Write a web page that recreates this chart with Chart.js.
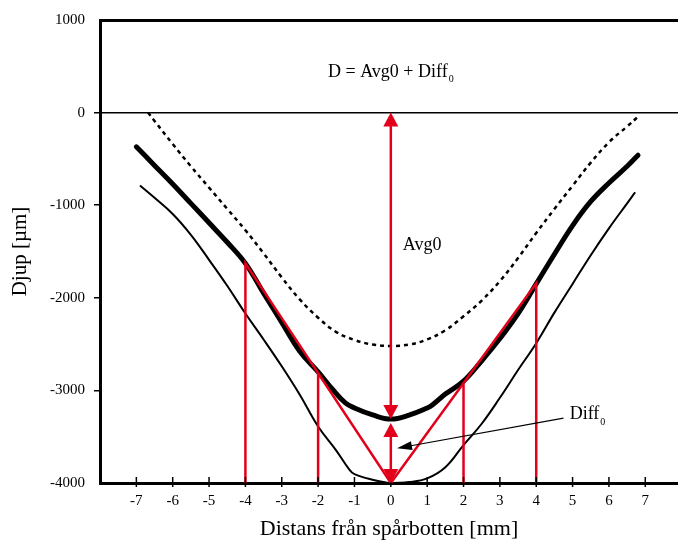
<!DOCTYPE html>
<html><head><meta charset="utf-8">
<script src="https://cdn.jsdelivr.net/npm/chart.js@4/dist/chart.umd.min.js"></script>
<style>html,body{margin:0;padding:0;background:#fff;overflow:hidden}</style>
</head><body>
<canvas id="c" width="678" height="542"></canvas>
<script>
// Average profile (thick line)
const avgX = [-7, -6.5, -6, -5.5, -5, -4.5, -4, -3.5, -3, -2.5, -2, -1.6, -1.25, -1, -0.5, 0, 0.5, 1, 1.15, 1.5, 2, 2.5, 3, 3.5, 4, 4.5, 5, 5.5, 6, 6.5, 6.8];
const avgY = [-370, -570, -770, -980, -1190, -1400, -1628, -1950, -2265, -2580, -2800, -2990, -3135, -3190, -3265, -3310, -3268, -3190, -3155, -3040, -2900, -2680, -2440, -2170, -1850, -1530, -1220, -960, -760, -580, -460];
// Upper profile (dotted)
const upX = [-6.68, -6.5, -6, -5.5, -5, -4.5, -4, -3.5, -3, -2.5, -2, -1.5, -1, -0.5, 0, 0.5, 1, 1.5, 2, 2.5, 3, 3.5, 4, 4.5, 5, 5.5, 6, 6.5, 6.8];
const upY = [0, -90, -340, -580, -810, -1040, -1270, -1520, -1780, -2020, -2215, -2370, -2455, -2505, -2520, -2505, -2450, -2350, -2200, -2030, -1820, -1570, -1300, -1040, -790, -540, -320, -150, -45];
// Lower profile (thin)
const lowX = [-6.9, -6.5, -6, -5.5, -5, -4.5, -4, -3.5, -3, -2.5, -2, -1.5, -1.15, -1, -0.5, 0, 0.5, 1, 1.5, 2, 2.5, 3, 3.5, 4, 4.5, 5, 5.5, 6, 6.5, 6.72];
const lowY = [-787, -920, -1095, -1320, -1590, -1870, -2170, -2450, -2740, -3050, -3390, -3650, -3850, -3905, -3965, -4000, -3990, -3950, -3830, -3590, -3360, -3080, -2780, -2490, -2160, -1850, -1540, -1250, -980, -860];
// Construction (red)
const vX = [-4, -4, 0, 4, 4];
const vY = [-4000, -1628, -4000, -1844, -4000];
const midX = [-2, -2, null, 2, 2];
const midY = [-4000, -2814, null, -2922, -4000];
const avg0 = -3310;
const bottomDepth = -4000;
const xTickVals = [-7, -6, -5, -4, -3, -2, -1, 0, 1, 2, 3, 4, 5, 6, 7];
const yTickVals = [1000, 0, -1000, -2000, -3000, -4000];

const FONT = "'Liberation Serif', 'Times New Roman', serif";
const RED = '#e2001a';
const pts = (xs, ys) => xs.map((v, i) => ({x: v === null ? 0 : v, y: v === null ? null : ys[i]}));

function arrowHead(ctx, x, y, dir, len, half) {
  ctx.beginPath();
  ctx.moveTo(x, y);
  ctx.lineTo(x - len * Math.cos(dir) + half * Math.sin(dir), y - len * Math.sin(dir) - half * Math.cos(dir));
  ctx.lineTo(x - len * Math.cos(dir) - half * Math.sin(dir), y - len * Math.sin(dir) + half * Math.cos(dir));
  ctx.closePath();
  ctx.fill();
}

const annot = {
  id: 'annot',
  afterDatasetsDraw(chart) {
    const {ctx, scales: {x, y}, chartArea: a} = chart;
    ctx.save();
    ctx.strokeStyle = '#000'; ctx.lineWidth = 1.5;
    xTickVals.forEach(v => {
      const px = x.getPixelForValue(v);
      ctx.beginPath(); ctx.moveTo(px, a.bottom - 6); ctx.lineTo(px, a.bottom + 4); ctx.stroke();
    });
    const x0 = x.getPixelForValue(0);
    const yTop = y.getPixelForValue(0), yAvg = y.getPixelForValue(avg0), yBot = y.getPixelForValue(bottomDepth);
    ctx.strokeStyle = RED; ctx.fillStyle = RED; ctx.lineWidth = 2.5;
    ctx.beginPath(); ctx.moveTo(x0, yTop + 10); ctx.lineTo(x0, yAvg - 10); ctx.stroke();
    arrowHead(ctx, x0, yTop, -Math.PI / 2, 14, 7.5);
    arrowHead(ctx, x0, yAvg, Math.PI / 2, 14, 7.5);
    const y2 = yAvg + 4;
    ctx.beginPath(); ctx.moveTo(x0, y2 + 10); ctx.lineTo(x0, yBot - 10); ctx.stroke();
    arrowHead(ctx, x0, y2, -Math.PI / 2, 14, 7.5);
    arrowHead(ctx, x0, yBot, Math.PI / 2, 14, 7.5);
    const ax1 = x.getPixelForValue(4.75), ay1 = y.getPixelForValue(-3300);
    const ax2 = x.getPixelForValue(0.17), ay2 = y.getPixelForValue(-3625);
    const ang = Math.atan2(ay2 - ay1, ax2 - ax1);
    ctx.strokeStyle = '#000'; ctx.fillStyle = '#000'; ctx.lineWidth = 1.2;
    ctx.beginPath(); ctx.moveTo(ax1, ay1); ctx.lineTo(ax2 - 10 * Math.cos(ang), ay2 - 10 * Math.sin(ang)); ctx.stroke();
    arrowHead(ctx, ax2, ay2, ang, 15, 4.5);
    ctx.fillStyle = '#000';
    ctx.textBaseline = 'alphabetic';
    ctx.textAlign = 'left';
    ctx.font = '18px ' + FONT;
    const t1 = 'D = Avg0 + Diff';
    const w1 = ctx.measureText(t1).width;
    const tx = x0 - (w1 + 6) / 2, ty = y.getPixelForValue(385);
    ctx.fillText(t1, tx, ty);
    ctx.font = '10px ' + FONT;
    ctx.fillText('0', tx + w1 + 1, ty + 5);
    ctx.font = '18px ' + FONT;
    ctx.fillText('Avg0', x0 + 12, y.getPixelForValue(-1485));
    const dx = x.getPixelForValue(4.92), dy = y.getPixelForValue(-3305);
    ctx.fillText('Diff', dx, dy);
    const wd = ctx.measureText('Diff').width;
    ctx.font = '10px ' + FONT;
    ctx.fillText('0', dx + wd + 1, dy + 6);
    ctx.restore();
  }
};

new Chart(document.getElementById('c'), {
  type: 'line',
  data: {
    datasets: [
      {data: pts(vX, vY), borderColor: RED, borderWidth: 2.5, tension: 0, pointRadius: 0},
      {data: pts(midX, midY), borderColor: RED, borderWidth: 2.5, tension: 0, pointRadius: 0, spanGaps: false},
      {data: pts(avgX, avgY), borderColor: '#000', borderWidth: 5, tension: 0.4, pointRadius: 0, borderCapStyle: 'round', borderJoinStyle: 'round'},
      {data: pts(upX, upY), borderColor: '#000', borderWidth: 2.5, borderDash: [4, 4], tension: 0.4, pointRadius: 0},
      {data: pts(lowX, lowY), borderColor: '#000', borderWidth: 2, tension: 0.4, pointRadius: 0}
    ]
  },
  options: {
    responsive: false,
    animation: false,
    devicePixelRatio: 1,
    layout: {padding: {top: 20, right: 0, bottom: 0, left: 0}},
    plugins: {legend: {display: false}, tooltip: {enabled: false}},
    scales: {
      x: {
        type: 'linear', min: -8, max: 7.9,
        afterBuildTicks: s => { s.ticks = xTickVals.map(v => ({value: v})); },
        afterFit: s => { s.height = 59; },
        grid: {display: false, drawTicks: false},
        border: {display: true, color: '#000', width: 3},
        ticks: {font: {family: FONT, size: 15}, color: '#000', padding: 9, maxRotation: 0, callback: v => String(v)},
        title: {display: true, text: 'Distans från spårbotten [mm]', font: {family: FONT, size: 22}, color: '#000', padding: {top: 0, bottom: 0}}
      },
      y: {
        type: 'linear', min: -4000, max: 1000,
        afterBuildTicks: s => { s.ticks = yTickVals.map(v => ({value: v})); },
        afterFit: s => { s.width = 100; },
        grid: {
          drawTicks: true, tickLength: 6,
          color: c => (c.tick && (c.tick.value === 0 || c.tick.value === 1000)) ? '#000' : 'rgba(0,0,0,0)',
          lineWidth: c => (c.tick && c.tick.value === 1000) ? 3 : 1.5,
          tickColor: c => (c.tick && c.tick.value <= 0 && c.tick.value > -4000) ? '#000' : 'rgba(0,0,0,0)',
          tickWidth: 1.5
        },
        border: {display: true, color: '#000', width: 3},
        ticks: {font: {family: FONT, size: 15}, color: '#000', padding: 9, callback: v => String(v)},
        title: {display: true, text: 'Djup [µm]', font: {family: FONT, size: 21}, color: '#000', padding: {top: 8, bottom: 0}}
      }
    }
  },
  plugins: [annot]
});
</script>
</body></html>
